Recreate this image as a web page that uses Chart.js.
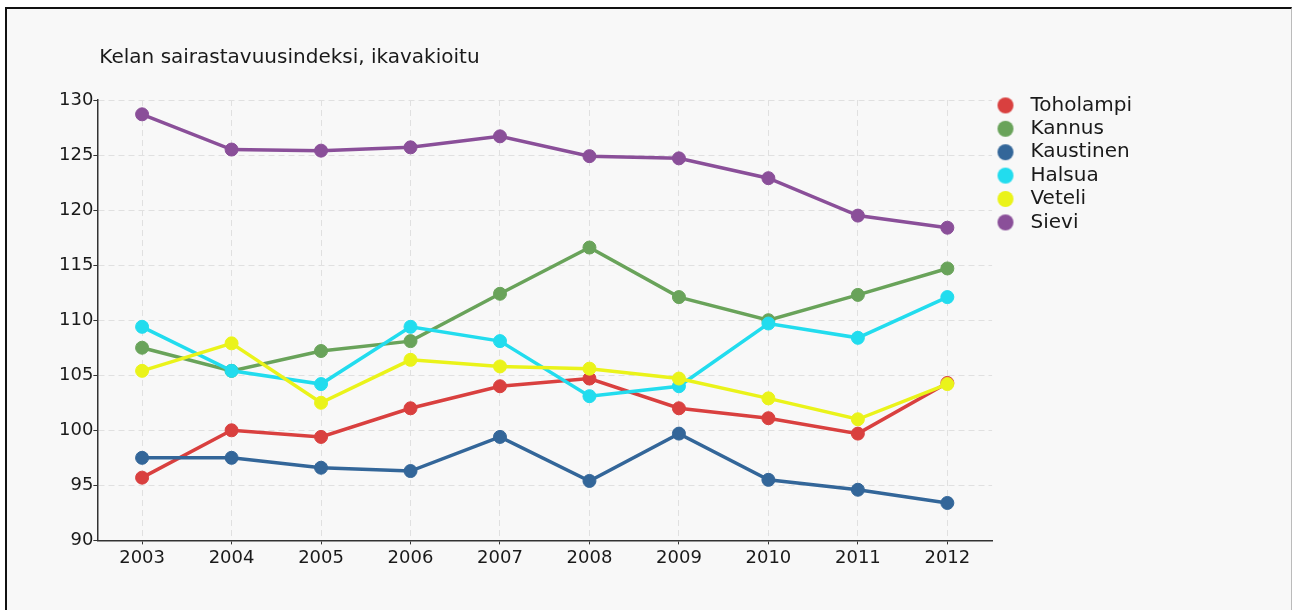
<!DOCTYPE html>
<html>
<head>
<meta charset="utf-8">
<script src="https://cdn.jsdelivr.net/npm/chart.js@4.4.1/dist/chart.umd.min.js"></script>
<style>
    html, body { margin: 0; padding: 0; background: #ffffff; }
    #kehys {
        position: absolute; left: 5px; top: 7px; width: 1284px; height: 620px;
        border-left: 2px solid #111; border-top: 2px solid #111; border-right: 1px solid #bbb;
        background: #f8f8f8;
    }
    #alue { position: absolute; left: 0; top: 0; width: 1294px; height: 610px; }
</style>
</head>
<body>
<div id="kehys"></div>
<div id="alue"><canvas id="kuvaaja" width="1294" height="610"></canvas></div>
<script>
// Vuodet ja kuntien indeksit
const vuodet = ['2003', '2004', '2005', '2006', '2007', '2008', '2009', '2010', '2011', '2012'];
const kunnat = ['Toholampi', 'Kannus', 'Kaustinen', 'Halsua', 'Veteli', 'Sievi'];
const varit = ['#d9403f', '#69a35a', '#336699', '#22dcee', '#eaf31a', '#8a4f99'];

const toholampi = [95.7, 100.0, 99.4, 102.0, 104.0, 104.7, 102.0, 101.1, 99.7, 104.3];
const kannus    = [107.5, 105.4, 107.2, 108.1, 112.4, 116.6, 112.1, 110.0, 112.3, 114.7];
const kaustinen = [97.5, 97.5, 96.6, 96.3, 99.4, 95.4, 99.7, 95.5, 94.6, 93.4];
const halsua    = [109.4, 105.4, 104.2, 109.4, 108.1, 103.1, 104.0, 109.7, 108.4, 112.1];
const veteli    = [105.4, 107.9, 102.5, 106.4, 105.8, 105.6, 104.7, 102.9, 101.0, 104.2];
const sievi     = [128.7, 125.5, 125.4, 125.7, 126.7, 124.9, 124.7, 122.9, 119.5, 118.4];

const arvot = [toholampi, kannus, kaustinen, halsua, veteli, sievi];

const otsikko = 'Kelan sairastavuusindeksi, ikavakioitu';
const yMin = 90;
const yMax = 130;
const yAskel = 5;

const fontti = 'DejaVu Sans';

// Selitteen pallo: leveämpi kangas, jotta teksti jää sopivan matkan päähän
function selitePallo(vari) {
    const c = document.createElement('canvas');
    c.width = 24;
    c.height = 18;
    const g = c.getContext('2d');
    g.fillStyle = vari;
    g.beginPath();
    g.arc(9, 9, 8, 0, Math.PI * 2);
    g.fill();
    return c;
}

// Otsikko ja selite siirretään kohdalleen asettelun jälkeen
const siirrot = {
    id: 'siirrot',
    afterLayout(chart) {
        if (chart.titleBlock) chart.titleBlock.left = chart.chartArea.left + 2;
        if (chart.legend) {
            chart.legend.top = chart.chartArea.top - 8;
            chart.legend.left = chart.chartArea.right + 1;
        }
    }
};

const datasets = kunnat.map((nimi, i) => ({
    label: nimi,
    data: arvot[i],
    borderColor: varit[i],
    backgroundColor: varit[i],
    pointBackgroundColor: varit[i],
    pointBorderColor: varit[i],
    pointBorderWidth: 1,
    pointRadius: 6.5,
    pointHoverRadius: 7,
    pointStyle: 'circle',
    borderWidth: 3.5,
    tension: 0,
    fill: false,
    order: -i
}));

const ctx = document.getElementById('kuvaaja').getContext('2d');
new Chart(ctx, {
    type: 'line',
    data: { labels: vuodet, datasets: datasets },
    plugins: [siirrot],
    options: {
        responsive: false,
        animation: false,
        layout: { padding: { left: 59, right: 153, top: 31, bottom: 38 } },
        plugins: {
            title: {
                display: true,
                text: otsikko,
                align: 'start',
                color: '#1a1a1a',
                font: { family: fontti, size: 20, weight: 'normal' },
                padding: { top: 15, bottom: 30 }
            },
            legend: {
                position: 'right',
                align: 'start',
                labels: {
                    usePointStyle: true,
                    pointStyleWidth: 24,
                    boxHeight: 18,
                    padding: 3.4,
                    color: '#1a1a1a',
                    font: { family: fontti, size: 20 },
                    generateLabels(chart) {
                        return chart.data.datasets.map((ds, i) => ({
                            text: ds.label,
                            fillStyle: ds.borderColor,
                            strokeStyle: ds.borderColor,
                            lineWidth: 0,
                            pointStyle: selitePallo(ds.borderColor),
                            hidden: !chart.isDatasetVisible(i),
                            datasetIndex: i,
                            fontColor: '#1a1a1a'
                        }));
                    }
                }
            },
            tooltip: { enabled: false }
        },
        scales: {
            x: {
                offset: true,
                grid: {
                    offset: false,
                    color: '#e0e0e0',
                    tickColor: '#333',
                    tickLength: 4,
                    tickBorderDash: []
                },
                border: { color: '#333', width: 1.5, dash: [6, 4] },
                ticks: { color: '#1a1a1a', padding: 3, font: { family: fontti, size: 18 } }
            },
            y: {
                min: yMin,
                max: yMax,
                grid: {
                    color: '#e0e0e0',
                    tickColor: '#333',
                    tickLength: 4,
                    tickBorderDash: []
                },
                border: { color: '#333', width: 1.5, dash: [6, 4] },
                ticks: { stepSize: yAskel, color: '#1a1a1a', padding: 0, font: { family: fontti, size: 18 } }
            }
        }
    }
});
</script>
</body>
</html>
